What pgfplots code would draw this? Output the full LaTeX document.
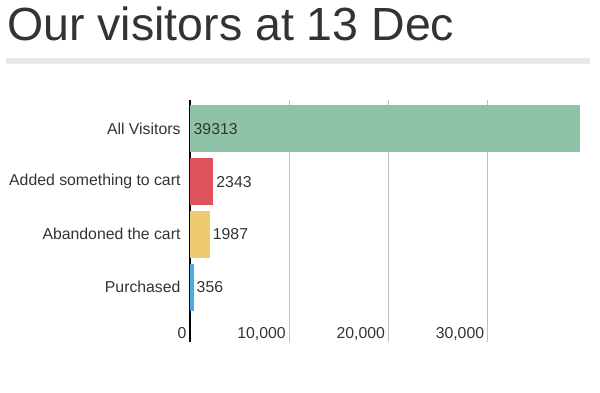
\documentclass[border=0pt]{standalone}
\usepackage{pgfplots}
\pgfplotsset{compat=1.18}
\usepackage{fontspec}
\setmainfont{Liberation Sans}
\definecolor{cgreen}{RGB}{143,195,167}
\definecolor{cred}{RGB}{222,82,90}
\definecolor{cyellow}{RGB}{240,202,112}
\definecolor{cblue}{RGB}{74,172,230}
\definecolor{ctext}{RGB}{51,51,51}
\definecolor{crule}{RGB}{232,232,232}
\definecolor{cgrid}{RGB}{190,190,190}
\newcommand{\lblfont}{\fontsize{15.8}{18}\selectfont}
\begin{document}
\begin{tikzpicture}[x=1pt,y=1pt]
\useasboundingbox (0,0) rectangle (600,392);
\node[anchor=base west, inner sep=0, text=ctext, font=\fontsize{46.5}{50}\selectfont] at (7,352) {Our visitors at 13 Dec};
\fill[crule] (6,392-64) rectangle (590,392-58.3);
\begin{axis}[
  at={(190pt,50pt)}, anchor=south west,
  scale only axis, width=390pt, height=242pt,
  xmin=0, xmax=39313,
  ymin=-1.044, ymax=3.55,
  axis y line*=left,
  axis x line*=bottom,
  x axis line style={draw=none},
  y axis line style={black, line width=1.6pt, -},
  major tick length=0pt,
  scaled x ticks=false,
  xtick={0,10000,20000,30000},
  xticklabels={{0\hspace{3pt}},{10,000},{20,000},{30,000}},
  xmajorgrids,
  grid style={cgrid, line width=0.8pt},
  xticklabel style={anchor=base east, yshift=4pt, xshift=0pt, font=\lblfont, text=ctext},
  ytick={0,1,2,3},
  yticklabels={Purchased,Abandoned the cart,Added something to cart,All Visitors},
  yticklabel style={font=\lblfont, text=ctext, xshift=-6pt},
  xbar, bar width=47pt, bar shift=0pt,
  clip=false,
  nodes near coords style={anchor=west, font=\lblfont, text=ctext, inner sep=3pt},
]
\addplot[draw=none, fill=cgreen] coordinates {(39313,3)};
\addplot[draw=none, fill=cred, nodes near coords={2343}] coordinates {(2343,2)};
\addplot[draw=none, fill=cyellow, nodes near coords={1987}] coordinates {(1987,1)};
\addplot[draw=none, fill=cblue, nodes near coords={356}] coordinates {(356,0)};
\node[anchor=west, font=\lblfont, text=ctext, inner sep=2pt] at (axis cs:150,3) {39313};
\end{axis}
\end{tikzpicture}
\end{document}
